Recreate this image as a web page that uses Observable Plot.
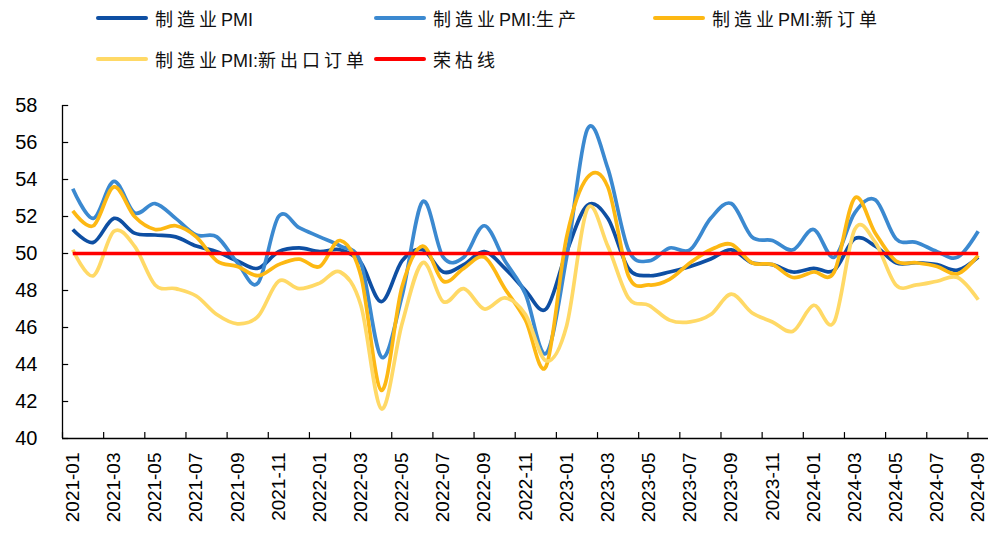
<!DOCTYPE html>
<html>
<head>
<meta charset="utf-8">
<script src="https://cdn.jsdelivr.net/npm/d3@7"></script>
<script src="https://cdn.jsdelivr.net/npm/@observablehq/plot@0.6"></script>
<style>
  html, body { margin: 0; padding: 0; background: #fff; }
  #wrap { position: relative; width: 995px; height: 533px; overflow: hidden; }
  #legend { position: absolute; left: 0; top: 0; width: 995px; height: 90px; z-index: 2; }
  .item { position: absolute; display: flex; align-items: center; height: 24px; }
  .swatch { width: 52px; height: 4px; border-radius: 2px; margin-right: 7px; }
  .lab { font-family: "Liberation Sans", Arial, "Noto Sans CJK SC", sans-serif; font-size: 18px; color: #111; white-space: nowrap; }
  .cjk { letter-spacing: 4px; }
  #chart { position: absolute; left: 0; top: 0; }
</style>
</head>
<body>
<div id="wrap">
  <div id="legend"></div>
  <div id="chart"></div>
</div>
<script>
const months = [
  "2021-01","2021-02","2021-03","2021-04","2021-05","2021-06","2021-07","2021-08","2021-09","2021-10","2021-11","2021-12",
  "2022-01","2022-02","2022-03","2022-04","2022-05","2022-06","2022-07","2022-08","2022-09","2022-10","2022-11","2022-12",
  "2023-01","2023-02","2023-03","2023-04","2023-05","2023-06","2023-07","2023-08","2023-09","2023-10","2023-11","2023-12",
  "2024-01","2024-02","2024-03","2024-04","2024-05","2024-06","2024-07","2024-08","2024-09"
];
const pmi = [51.3,50.6,51.9,51.1,51.0,50.9,50.4,50.1,49.6,49.2,50.1,50.3,
  50.1,50.2,49.5,47.4,49.6,50.2,49.0,49.4,50.1,49.2,48.0,47.0,
  50.1,52.6,51.9,49.2,48.8,49.0,49.3,49.7,50.2,49.5,49.4,49.0,
  49.2,49.1,50.8,50.4,49.5,49.5,49.4,49.1,49.8];
const production = [53.5,51.9,53.9,52.2,52.7,51.9,51.0,50.9,49.5,48.4,52.0,51.4,
  50.9,50.4,49.5,44.4,47.7,52.8,49.8,49.8,51.5,49.6,47.8,44.6,
  49.8,56.7,54.6,50.2,49.6,50.3,50.2,51.9,52.7,50.9,50.7,50.2,
  51.3,49.8,52.2,52.9,50.8,50.6,50.1,49.8,51.2];
const newOrders = [52.3,51.5,53.6,52.0,51.3,51.5,50.9,49.6,49.3,48.8,49.4,49.7,
  49.3,50.7,48.8,42.6,48.2,50.4,48.5,49.2,49.8,48.1,46.4,43.9,
  50.9,54.1,53.6,48.8,48.3,48.6,49.5,50.2,50.5,49.5,49.4,48.7,
  49.0,49.0,53.0,51.1,49.6,49.5,49.3,48.9,49.9];
const exportOrders = [50.2,48.8,51.2,50.4,48.3,48.1,47.7,46.7,46.2,46.6,48.5,48.1,
  48.4,49.0,47.2,41.6,46.2,49.5,47.4,48.1,47.0,47.6,46.7,44.2,
  46.1,52.4,50.4,47.6,47.2,46.4,46.3,46.7,47.8,46.8,46.3,45.8,
  47.2,46.3,51.3,50.6,48.3,48.3,48.5,48.7,47.5];
const boomBust = [50,50,50,50,50,50,50,50,50,50,50,50,
  50,50,50,50,50,50,50,50,50,50,50,50,
  50,50,50,50,50,50,50,50,50,50,50,50,
  50,50,50,50,50,50,50,50,50];
const yTicks = [40,42,44,46,48,50,52,54,56,58];

const seriesNames = ["制造业PMI","制造业PMI:生产","制造业PMI:新订单","制造业PMI:新出口订单","荣枯线"];
const seriesValues = [pmi, production, newOrders, exportOrders, boomBust];
const colors = ["#0E4FA3","#3B89D0","#FDB813","#FFD966","#FF0000"];
const legendPos = [[96,6],[374,6],[653,6],[96,47],[374,47]];

const rows = [];
seriesNames.forEach((name, s) => {
  seriesValues[s].forEach((v, i) => rows.push({series: name, i, value: v}));
});

const xDomain = [-0.5, months.length - 0.5];
const yDomain = [40, 58];
const labelIdx = months.map((m, i) => i).filter(i => i % 2 === 0);
const boundaries = labelIdx.map(i => i - 0.5);

const font = "'Liberation Sans', Arial, sans-serif";

const plot = Plot.plot({
  width: 995,
  height: 533,
  marginLeft: 62,
  marginRight: 7,
  marginTop: 105,
  marginBottom: 95,
  x: {domain: xDomain},
  y: {domain: yDomain},
  style: {fontFamily: font, color: "#000", background: "transparent", overflow: "visible"},
  marks: [
    Plot.axisY({ticks: yTicks, tickSize: 0, tickPadding: 25, fontSize: 20, label: null, tickFormat: d => String(d)}),
    Plot.axisX({ticks: labelIdx, tickSize: 0, tickPadding: 14, tickRotate: -90, fontSize: 19, label: null, tickFormat: i => months[i]}),
    ...seriesNames.map((name, s) =>
      Plot.lineY(rows.filter(r => r.series === name), {
        x: "i", y: "value",
        stroke: colors[s],
        strokeWidth: 3.7,
        curve: s === 4 ? "linear" : "cardinal",
        strokeLinejoin: "round",
        strokeLinecap: "butt"
      })
    ),
    Plot.ruleX([xDomain[0]], {y1: yDomain[0], y2: yDomain[1], stroke: "#000", strokeWidth: 1.3}),
    Plot.ruleY([yDomain[0]], {x1: xDomain[0], x2: xDomain[1], stroke: "#000", strokeWidth: 1.3}),
    Plot.ruleY(yTicks, {x1: xDomain[0], x2: xDomain[0] + 0.3, stroke: "#000", strokeWidth: 1.2}),
    Plot.ruleX(boundaries, {y1: yDomain[0], y2: yDomain[0] + 0.32, stroke: "#000", strokeWidth: 1.2})
  ]
});
document.getElementById("chart").appendChild(plot);

const legend = document.getElementById("legend");
seriesNames.forEach((name, s) => {
  const item = document.createElement("div");
  item.className = "item";
  item.style.left = legendPos[s][0] + "px";
  item.style.top = legendPos[s][1] + "px";
  const sw = document.createElement("div");
  sw.className = "swatch";
  sw.style.background = colors[s];
  const lab = document.createElement("span");
  lab.className = "lab";
  // split into CJK and non-CJK runs so only CJK gets the wide spacing
  name.match(/[\u4e00-\u9fff]+|[^\u4e00-\u9fff]+/g).forEach(run => {
    const sp = document.createElement("span");
    if (/[\u4e00-\u9fff]/.test(run)) sp.className = "cjk";
    sp.textContent = run;
    lab.appendChild(sp);
  });
  item.appendChild(sw);
  item.appendChild(lab);
  legend.appendChild(item);
});
</script>
</body>
</html>
